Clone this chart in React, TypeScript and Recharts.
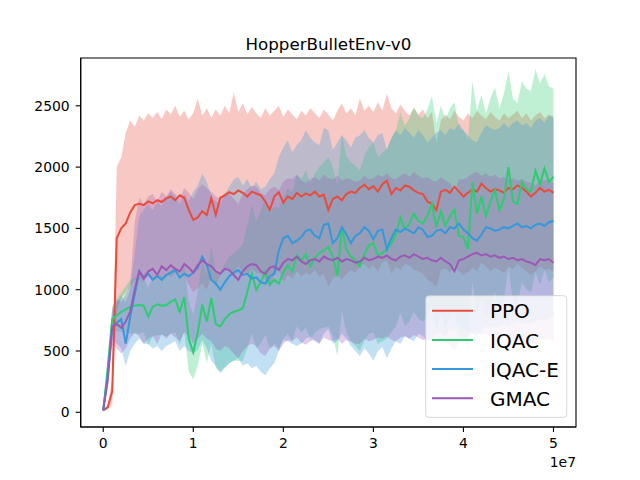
import React from 'react';
import { ComposedChart, Area, Line, XAxis, YAxis, ReferenceArea } from 'recharts';

// timesteps in millions
const steps = [
  0, 0.5, 1, 1.5, 2, 2.5, 3, 3.5, 4, 4.5,
  5, 5.5, 6, 6.5, 7, 7.5, 8, 8.5, 9, 9.5,
  10, 10.5, 11, 11.5, 12, 12.5, 13, 13.5, 14, 14.5,
  15, 15.5, 16, 16.5, 17, 17.5, 18, 18.5, 19, 19.5,
  20, 20.5, 21, 21.5, 22, 22.5, 23, 23.5, 24, 24.5,
  25, 25.5, 26, 26.5, 27, 27.5, 28, 28.5, 29, 29.5,
  30, 30.5, 31, 31.5, 32, 32.5, 33, 33.5, 34, 34.5,
  35, 35.5, 36, 36.5, 37, 37.5, 38, 38.5, 39, 39.5,
  40, 40.5, 41, 41.5, 42, 42.5, 43, 43.5, 44, 44.5,
  45, 45.5, 46, 46.5, 47, 47.5, 48, 48.5, 49, 49.5,
  50,
];

const ppoMean = [
  15, 40, 170, 1420, 1500, 1540, 1630, 1690, 1700, 1690,
  1720, 1705, 1730, 1715, 1745, 1760, 1730, 1770, 1750, 1650,
  1570, 1590, 1640, 1610, 1745, 1610, 1750, 1770, 1795, 1780,
  1810, 1790, 1760, 1800, 1785, 1770, 1720, 1650, 1760, 1795,
  1710, 1760, 1740, 1790, 1760, 1785, 1770, 1800, 1760, 1775,
  1650, 1740, 1760, 1730, 1780, 1800, 1790, 1830, 1855, 1820,
  1845, 1800, 1860, 1890, 1780, 1830, 1810, 1850, 1840, 1810,
  1790, 1780, 1720, 1700, 1650, 1800, 1815, 1790, 1840, 1800,
  1760, 1790, 1820, 1800, 1865, 1830, 1800, 1820, 1810, 1790,
  1830, 1820, 1850, 1830, 1800, 1760, 1790, 1830, 1800, 1815,
  1790,
];
const ppoUpper = [
  20, 60, 280, 2000, 2080, 2280, 2380, 2330, 2420, 2380,
  2440, 2400, 2450, 2390, 2470, 2430, 2500, 2410, 2460, 2390,
  2440, 2560, 2420, 2480, 2400, 2470, 2420, 2500, 2440, 2610,
  2450, 2520, 2430, 2490, 2440, 2400, 2480, 2420, 2460, 2500,
  2410, 2470, 2430, 2390, 2460, 2420, 2480, 2440, 2400, 2470,
  2430, 2380, 2460, 2520, 2440, 2480, 2420, 2560, 2460, 2500,
  2450, 2530, 2460, 2600, 2480, 2440, 2510, 2460, 2420, 2480,
  2430, 2470, 2400, 2450, 2200, 2380, 2430, 2390, 2460, 2410,
  2380, 2440, 2400, 2460, 2420, 2390, 2450, 2410, 2380, 2440,
  2400, 2430, 2460, 2400, 2440, 2380, 2420, 2450, 2400, 2430,
  2410,
];
const ppoLower = [
  10, 25, 60, 820, 930, 980, 1030, 1080, 1090, 1060,
  1110, 1070, 1120, 1080, 1130, 1100, 1140, 1090, 1120, 1040,
  980, 1010, 1050, 1000, 1110, 1020, 1120, 1150, 1170, 1140,
  1190, 1150, 1120, 1170, 1140, 1130, 1080, 1020, 1120, 1160,
  1060, 1120, 1090, 1150, 1110, 1140, 1120, 1160, 1110, 1130,
  1020, 1090, 1120, 1080, 1130, 1160, 1140, 1190, 1210, 1170,
  1200, 1150, 1220, 1240, 1130, 1190, 1160, 1210, 1200, 1160,
  1150, 1130, 1080, 1060, 1020, 1160, 1170, 1140, 1200, 1150,
  1120, 1140, 1180, 1150, 1220, 1190, 1150, 1180, 1160, 1140,
  1190, 1170, 1210, 1180, 1150, 1120, 1150, 1190, 1160, 1170,
  1150,
];

const iqacMean = [
  15, 360, 760, 790, 820, 840, 860, 870, 875, 870,
  780, 860, 880, 870, 875, 900, 920, 820, 940, 600,
  490, 650, 880, 740, 930, 720, 700, 760, 800, 820,
  830, 850, 980, 1130, 1000, 1060, 1150, 1040, 1080, 1050,
  1140, 1200, 1150, 1280, 1240, 1290, 1190, 1260, 1300, 1320,
  1350, 1270, 1110, 1510, 1330, 1270, 1240, 1190, 1290, 1360,
  1380, 1280, 1300, 1330, 1380, 1450, 1590, 1490, 1540, 1620,
  1560, 1540, 1600, 1700, 1510, 1640, 1520, 1600, 1650, 1440,
  1430, 1330, 1880, 1620, 1760, 1600, 1720, 1810, 1650, 1740,
  2000, 1720, 1700, 1880, 1820, 1800, 1970, 1860, 1990, 1880,
  1920,
];
const iqacUpper = [
  20, 440, 860, 920, 980, 1030, 1080, 1100, 1110, 1090,
  1020, 1100, 1130, 1110, 1130, 1160, 1190, 1090, 1220, 900,
  800, 980, 1250, 1120, 1350, 1150, 1140, 1210, 1270, 1300,
  1330, 1370, 1520, 1690, 1560, 1640, 1750, 1620, 1680, 1660,
  1750, 1830, 1790, 1940, 1900, 1970, 1860, 1950, 2000, 2040,
  2080, 2000, 1850, 2270, 2090, 2040, 2010, 1970, 2090, 2160,
  2200, 2080, 2120, 2150, 2230, 2300, 2450, 2340, 2400, 2490,
  2420, 2400, 2470, 2580, 2360, 2500, 2390, 2480, 2530, 2320,
  2300, 2220, 2700, 2460, 2590, 2440, 2560, 2650, 2480, 2600,
  2780, 2560, 2520, 2700, 2640, 2620, 2800, 2680, 2760, 2660,
  2640,
];
const iqacLower = [
  10, 280, 660, 660, 660, 650, 640, 640, 640, 650,
  540, 620, 630, 630, 620, 640, 650, 550, 660, 330,
  270, 380, 560, 400, 560, 360, 330, 370, 400, 420,
  420, 420, 520, 640, 520, 560, 630, 520, 560, 520,
  600, 640, 580, 700, 650, 690, 590, 650, 680, 690,
  700, 620, 460, 820, 650, 580, 540, 500, 580, 640,
  650, 560, 580, 600, 650, 700, 810, 700, 740, 820,
  760, 740, 780, 860, 680, 800, 680, 770, 820, 620,
  600, 520, 1060, 800, 930, 780, 900, 980, 830, 920,
  1180, 900, 880, 1060, 1000, 980, 1140, 1040, 1160, 1060,
  1100,
];

const iqacEMean = [
  15, 300, 700, 730, 760, 560, 780, 960, 1150, 1100,
  1130, 1080, 1110, 1080, 1120, 1140, 1160, 1100, 1130, 1110,
  1140, 1180, 1270, 1200, 1080, 1050, 1000, 1060, 1110, 1140,
  1160, 1120, 1130, 1090, 1100, 1060, 1050, 1110, 1130, 1320,
  1420, 1440, 1380, 1400, 1430, 1480, 1490, 1440, 1420, 1530,
  1540, 1380, 1420, 1510, 1450, 1380, 1440, 1460, 1510, 1480,
  1410, 1480, 1490, 1330, 1420, 1490, 1470, 1500, 1480, 1460,
  1510, 1490, 1430, 1440, 1480, 1490, 1460, 1510, 1500, 1540,
  1490, 1460, 1420, 1400, 1450, 1510, 1500, 1480, 1490, 1510,
  1500, 1520, 1540, 1510, 1520, 1500, 1530, 1540, 1520, 1550,
  1560,
];
const iqacEUpper = [
  20, 380, 820, 900, 950, 900, 1000, 1300, 1600, 1650,
  1700, 1650, 1720, 1680, 1750, 1800, 1760, 1700, 1780, 1720,
  1800, 1850, 1950, 1880, 1760, 1720, 1700, 1780, 1840, 1900,
  1920, 1850, 1900, 1830, 1880, 1820, 1840, 1900, 1950, 2080,
  2160, 2220, 2120, 2180, 2220, 2300, 2240, 2200, 2180, 2320,
  2300, 2140, 2200, 2260, 2220, 2160, 2240, 2260, 2300, 2240,
  2200, 2260, 2280, 2140, 2240, 2300, 2260, 2320, 2280, 2240,
  2300, 2260, 2200, 2240, 2280, 2300, 2260, 2320, 2300, 2360,
  2300, 2260, 2220, 2200, 2280, 2340, 2320, 2300, 2320, 2360,
  2320, 2360, 2380, 2340, 2360, 2320, 2380, 2400, 2360, 2420,
  2400,
];
const iqacELower = [
  10, 230, 580, 560, 520, 380, 500, 560, 600, 560,
  560, 520, 540, 500, 540, 560, 580, 500, 540, 500,
  480, 510, 590, 520, 420, 380, 320, 360, 400, 420,
  440, 380, 400, 360, 380, 330, 300, 360, 400, 500,
  590, 580, 560, 540, 560, 600, 620, 580, 560, 640,
  680, 560, 580, 640, 600, 540, 500, 460, 520, 480,
  420, 500, 530, 440, 520, 580, 560, 620, 600, 580,
  640, 620, 580, 600, 640, 660, 620, 680, 660, 700,
  680, 660, 640, 620, 660, 700, 700, 690, 700, 720,
  700, 720, 740, 720, 730, 720, 740, 760, 740, 770,
  780,
];

const gmacMean = [
  15, 260, 700, 720, 690, 740, 820, 1000, 1150, 1090,
  1150, 1170, 1120, 1190, 1160, 1200, 1170, 1150, 1210, 1180,
  1140, 1200, 1240, 1210, 1190, 1150, 1130, 1170, 1160, 1120,
  1080, 1150, 1190, 1210, 1200, 1150, 1130, 1180, 1190, 1160,
  1220, 1250, 1240, 1270, 1230, 1210, 1240, 1250, 1230, 1270,
  1250, 1240, 1260, 1230, 1250, 1240, 1220, 1230, 1260, 1240,
  1250, 1270, 1260, 1280, 1250, 1240, 1270, 1280, 1260, 1290,
  1270, 1250, 1260, 1240, 1230, 1260, 1230, 1210, 1150, 1240,
  1250, 1270, 1290, 1300, 1280, 1290, 1270, 1280, 1260, 1270,
  1250, 1260, 1240, 1250, 1230, 1220, 1200, 1250, 1240, 1250,
  1220,
];
const gmacUpper = [
  20, 330, 850, 920, 900, 960, 1050, 1550, 1750, 1700,
  1760, 1780, 1720, 1800, 1760, 1820, 1780, 1750, 1830, 1790,
  1740, 1820, 1860, 1830, 1800, 1760, 1740, 1790, 1780, 1740,
  1700, 1780, 1820, 1850, 1840, 1790, 1770, 1820, 1840, 1810,
  1880, 1910, 1900, 1940, 1890, 1870, 1900, 1920, 1890, 1940,
  1910, 1900, 1930, 1890, 1910, 1900, 1880, 1890, 1930, 1900,
  1910, 1940, 1920, 1950, 1910, 1900, 1930, 1950, 1920, 1960,
  1930, 1910, 1920, 1890, 1880, 1920, 1890, 1870, 1800, 1900,
  1900, 1920, 1950, 1960, 1930, 1950, 1920, 1940, 1910, 1920,
  1900, 1910, 1890, 1900, 1880, 1870, 1850, 1900, 1890, 1900,
  1870,
];
const gmacLower = [
  10, 190, 550, 520, 480, 520, 600, 650, 620, 560,
  600, 620, 560, 640, 600, 640, 610, 580, 650, 620,
  560, 600, 640, 600, 580, 520, 500, 540, 520, 480,
  440, 500, 540, 560, 540, 480, 460, 520, 540, 500,
  560, 590, 580, 610, 570, 550, 580, 590, 560, 610,
  590, 580, 600, 560, 590, 580, 560, 560, 600, 580,
  590, 610, 600, 620, 590, 580, 610, 620, 600, 630,
  610, 590, 600, 580, 570, 600, 570, 550, 500, 580,
  600, 620, 640, 650, 630, 640, 620, 630, 610, 620,
  600, 610, 590, 600, 580, 570, 560, 600, 590, 600,
  580,
];

const xTicks = [0, 1e7, 2e7, 3e7, 4e7, 5e7];
const yTicks = [0, 500, 1000, 1500, 2000, 2500];

const series = [
  { key: 'ppo', name: 'PPO', color: '#e74c3c' },
  { key: 'iqac', name: 'IQAC', color: '#2ecc71' },
  { key: 'iqacE', name: 'IQAC-E', color: '#3498db' },
  { key: 'gmac', name: 'GMAC', color: '#9b59b6' },
];

const data = steps.map((m, i) => ({
  x: m * 1e6,
  ppo: ppoMean[i],
  ppoBand: [ppoLower[i], ppoUpper[i]],
  iqac: iqacMean[i],
  iqacBand: [iqacLower[i], iqacUpper[i]],
  iqacE: iqacEMean[i],
  iqacEBand: [iqacELower[i], iqacEUpper[i]],
  gmac: gmacMean[i],
  gmacBand: [gmacLower[i], gmacUpper[i]],
}));

const FONT = '"DejaVu Sans", sans-serif';
const X_DOMAIN = [-2.5e6, 5.25e7];
const Y_DOMAIN = [-120, 2890];
const tickStyle = { fontFamily: FONT, fontSize: 13.9, fill: '#000' };

export default function App() {
  return (
    <div style={{ position: 'absolute', left: 0, top: 0, width: 640, height: 480, background: '#fff' }}>
      <ComposedChart width={640} height={480} data={data} margin={{ top: 58, right: 64, bottom: 0, left: 0 }}>
        <XAxis
          dataKey="x"
          type="number"
          domain={X_DOMAIN}
          ticks={xTicks}
          allowDataOverflow
          tickFormatter={(v) => String(v / 1e7)}
          height={53}
          tickSize={5}
          tickMargin={6}
          tick={tickStyle}
          axisLine={{ stroke: '#000', strokeWidth: 1.1 }}
          tickLine={{ stroke: '#000', strokeWidth: 1.1 }}
        />
        <YAxis
          type="number"
          domain={Y_DOMAIN}
          ticks={yTicks}
          allowDataOverflow
          width={80.7}
          tickSize={5}
          tickMargin={6}
          tick={tickStyle}
          axisLine={{ stroke: '#000', strokeWidth: 1.1 }}
          tickLine={{ stroke: '#000', strokeWidth: 1.1 }}
        />
        {series.map((s) => (
          <Area
            key={s.key + 'Band'}
            type="linear"
            dataKey={s.key + 'Band'}
            stroke="none"
            fill={s.color}
            fillOpacity={0.3}
            isAnimationActive={false}
            dot={false}
            activeDot={false}
          />
        ))}
        {series.map((s) => (
          <Line
            key={s.key}
            type="linear"
            dataKey={s.key}
            stroke={s.color}
            strokeWidth={2}
            dot={false}
            activeDot={false}
            isAnimationActive={false}
          />
        ))}
        <ReferenceArea
          x1={X_DOMAIN[0]}
          x2={X_DOMAIN[1]}
          y1={Y_DOMAIN[0]}
          y2={Y_DOMAIN[1]}
          fill="none"
          stroke="#000"
          strokeWidth={1.1}
          ifOverflow="visible"
        />
      </ComposedChart>
      <svg width={640} height={480} style={{ position: 'absolute', left: 0, top: 0, pointerEvents: 'none' }}>
        <text x={328.4} y={50} textAnchor="middle" fontFamily={FONT} fontSize={16.7} fill="#000">
          HopperBulletEnv-v0
        </text>
        <text x={576} y={466.5} textAnchor="end" fontFamily={FONT} fontSize={13.9} fill="#000">
          1e7
        </text>
        <rect x={425.7} y={295.7} width={141} height={121.6} rx={3} fill="#fff" fillOpacity={0.8} stroke="#cccccc" strokeOpacity={0.8} />
        {series.map((s, k) => (
          <g key={s.key}>
            <line x1={432} x2={473} y1={310.7 + k * 29.2} y2={310.7 + k * 29.2} stroke={s.color} strokeWidth={2} />
            <text x={490} y={318.3 + k * 29.2} fontFamily={FONT} fontSize={20} fill="#000">
              {s.name}
            </text>
          </g>
        ))}
      </svg>
    </div>
  );
}
